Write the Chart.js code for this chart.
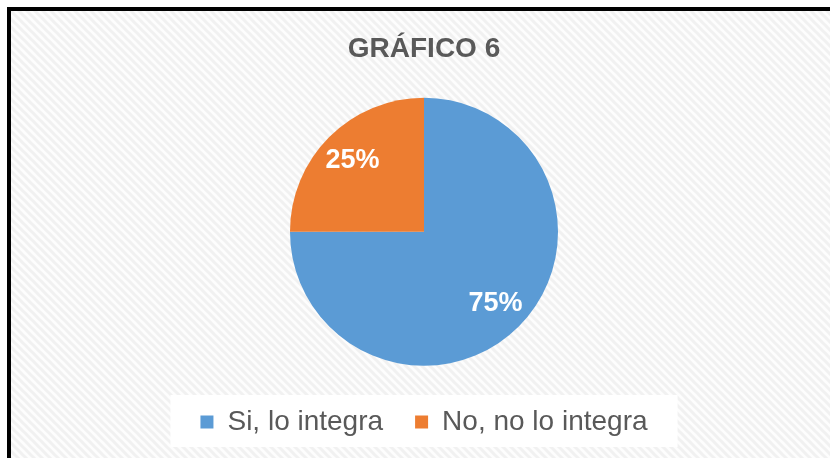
<!DOCTYPE html>
<html>
<head>
<meta charset="utf-8">
<script src="https://cdn.jsdelivr.net/npm/chart.js@4/dist/chart.umd.min.js"></script>
<style>
  html, body { margin: 0; padding: 0; background: #fff; }
  #wrap { width: 830px; height: 458px; position: relative; }
</style>
</head>
<body>
<div id="wrap"><canvas id="grafico"></canvas></div>
<script>
const categorias = ['Si, lo integra', 'No, no lo integra'];
const valores = [75, 25];
const colores = ['#5B9BD5', '#ED7D31'];
const titulo = 'GRÁFICO 6';

// hatched background, black top/left frame, white legend box
const fondo = {
    id: 'fondo',
    beforeDraw(chart) {
        const ctx = chart.ctx;
        const w = chart.width, h = chart.height;
        ctx.save();
        ctx.fillStyle = '#ffffff';
        ctx.fillRect(0, 0, w, h);

        const p = document.createElement('canvas');
        p.width = 8; p.height = 8;
        const pc = p.getContext('2d');
        pc.fillStyle = '#fdfdfd';
        pc.fillRect(0, 0, 8, 8);
        pc.strokeStyle = '#f1f1f1';
        pc.lineWidth = 3;
        pc.beginPath();
        pc.moveTo(-2, -2); pc.lineTo(10, 10);
        pc.moveTo(-10, -2); pc.lineTo(2, 10);
        pc.moveTo(6, -2); pc.lineTo(18, 10);
        pc.stroke();
        ctx.fillStyle = ctx.createPattern(p, 'repeat');
        ctx.fillRect(11, 11, w - 11, h - 11);

        ctx.fillStyle = '#000000';
        ctx.fillRect(7, 7, w - 7, 4);
        ctx.fillRect(7, 7, 4, h - 7);

        const boxes = chart.legend.legendHitBoxes;
        if (boxes && boxes.length) {
            const first = boxes[0], last = boxes[boxes.length - 1];
            ctx.fillStyle = '#ffffff';
            ctx.fillRect(first.left - 30, 395, last.left + last.width - first.left + 60, 52);
        }
        ctx.restore();
    }
};

// percentage labels inside the slices
const etiquetas = {
    id: 'etiquetas',
    afterDatasetsDraw(chart) {
        const ctx = chart.ctx;
        const meta = chart.getDatasetMeta(0);
        const total = valores.reduce((a, b) => a + b, 0);
        ctx.save();
        ctx.fillStyle = '#ffffff';
        ctx.font = 'bold 27px "Liberation Sans", Arial, sans-serif';
        ctx.textAlign = 'center';
        ctx.textBaseline = 'middle';
        meta.data.forEach((arc, i) => {
            const { x, y, startAngle, endAngle, outerRadius } = arc.getProps(['x', 'y', 'startAngle', 'endAngle', 'outerRadius'], true);
            const mid = (startAngle + endAngle) / 2;
            const r = outerRadius * 0.755;
            const pct = Math.round(valores[i] / total * 100) + '%';
            ctx.fillText(pct, x + Math.cos(mid) * r, y + Math.sin(mid) * r);
        });
        ctx.restore();
    }
};

new Chart(document.getElementById('grafico'), {
    type: 'pie',
    data: {
        labels: categorias,
        datasets: [{
            data: valores,
            backgroundColor: colores,
            borderWidth: 0,
            radius: 134
        }]
    },
    options: {
        responsive: true,
        maintainAspectRatio: false,
        animation: false,
        layout: { padding: { top: 10, left: 18, right: 0, bottom: 12 } },
        plugins: {
            title: {
                display: true,
                text: titulo,
                color: '#595959',
                font: { family: '"Liberation Sans", Arial, sans-serif', size: 28, weight: 'bold' },
                padding: { top: 22, bottom: 22 }
            },
            legend: {
                position: 'bottom',
                labels: {
                    color: '#595959',
                    boxWidth: 13,
                    boxHeight: 13,
                    padding: 32,
                    font: { family: '"Liberation Sans", Arial, sans-serif', size: 28 }
                }
            },
            tooltip: { enabled: false }
        }
    },
    plugins: [fondo, etiquetas]
});
</script>
</body>
</html>
